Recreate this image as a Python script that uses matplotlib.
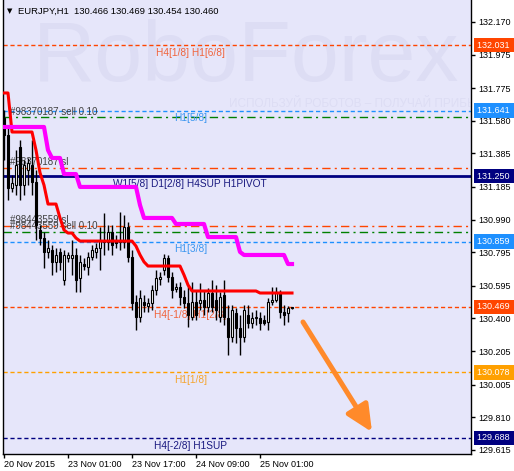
import matplotlib.pyplot as plt

plt.rcParams['font.family'] = ['Liberation Sans', 'DejaVu Sans']

# EURJPY H1 candles, one per hour
opens = [131.597, 131.495, 131.179, 131.196, 131.423, 131.196, 131.286, 131.316, 131.214, 130.927,
         130.880, 130.797, 130.808, 130.737, 130.797, 130.629, 130.761, 130.761, 130.779, 130.641,
         130.725, 130.707, 130.767, 130.797, 130.820, 130.868, 130.856, 130.916, 130.862, 130.868,
         130.856, 130.946, 130.767, 130.498, 130.409, 130.498, 130.474, 130.492, 130.570, 130.635,
         130.689, 130.761, 130.647, 130.576, 130.588, 130.528, 130.492, 130.409, 130.498, 130.492,
         130.510, 130.468, 130.552, 130.510, 130.409, 130.540, 130.403, 130.289, 130.432, 130.343,
         130.289, 130.420, 130.373, 130.403, 130.403, 130.391, 130.379, 130.498, 130.510, 130.558,
         130.438, 130.432, 130.466]
closes = [131.495, 131.179, 131.208, 131.316, 131.196, 131.316, 131.328, 131.214, 130.958, 130.880,
          130.797, 130.820, 130.737, 130.779, 130.737, 130.779, 130.779, 130.779, 130.629, 130.737,
          130.713, 130.767, 130.808, 130.820, 130.868, 130.856, 130.916, 130.838, 130.850, 130.856,
          130.946, 130.767, 130.492, 130.409, 130.522, 130.480, 130.492, 130.570, 130.641, 130.647,
          130.761, 130.647, 130.570, 130.588, 130.528, 130.492, 130.420, 130.498, 130.420, 130.510,
          130.468, 130.552, 130.468, 130.450, 130.528, 130.409, 130.289, 130.450, 130.343, 130.289,
          130.450, 130.373, 130.403, 130.409, 130.373, 130.373, 130.498, 130.510, 130.558, 130.438,
          130.420, 130.462, 130.460]
highs = [131.644, 131.537, 131.256, 131.405, 131.465, 131.346, 131.358, 131.465, 131.286, 130.958,
         130.916, 130.868, 130.838, 130.820, 130.820, 130.808, 130.797, 130.868, 130.820, 130.779,
         130.761, 130.797, 130.838, 130.850, 130.946, 131.029, 130.958, 130.958, 130.898, 131.035,
         131.017, 130.976, 130.808, 130.540, 130.570, 130.540, 130.522, 130.600, 130.689, 130.677,
         130.785, 130.779, 130.677, 130.611, 130.617, 130.570, 130.600, 130.617, 130.570, 130.611,
         130.570, 130.582, 130.629, 130.600, 130.558, 130.629, 130.480, 130.480, 130.462, 130.420,
         130.480, 130.480, 130.438, 130.450, 130.438, 130.420, 130.522, 130.588, 130.588, 130.570,
         130.480, 130.474, 130.469]
lows = [131.346, 131.107, 131.155, 131.137, 131.107, 131.137, 131.196, 131.137, 130.868, 130.838,
        130.701, 130.761, 130.659, 130.677, 130.689, 130.600, 130.737, 130.659, 130.558, 130.558,
        130.689, 130.659, 130.749, 130.761, 130.689, 130.779, 130.808, 130.779, 130.820, 130.808,
        130.820, 130.737, 130.450, 130.331, 130.379, 130.438, 130.438, 130.450, 130.540, 130.600,
        130.659, 130.617, 130.522, 130.558, 130.480, 130.462, 130.349, 130.391, 130.391, 130.450,
        130.420, 130.438, 130.438, 130.391, 130.379, 130.361, 130.182, 130.259, 130.253, 130.182,
        130.259, 130.343, 130.343, 130.361, 130.331, 130.361, 130.331, 130.480, 130.498, 130.403,
        130.361, 130.379, 130.454]

# indicator lines (step shaped), one value per bar
red_line = ([131.746] * 2 + [131.513] * 6 + [131.405, 131.270, 131.196] + [131.083] * 3
            + [131.000, 130.928] + [130.910] * 2 + [130.880] + [130.862] * 14
            + [130.832, 130.780, 130.738] + [130.713] * 9 + [130.660, 130.600]
            + [130.564] * 17 + [130.552] * 9)
magenta_line = ([131.543] * 11 + [131.405] + [131.358] * 3 + [131.262] * 4 + [131.185] * 15
                + [131.077] + [131.000] * 8 + [130.964] * 8 + [130.886] * 8 + [130.797]
                + [130.779] * 11 + [130.725] * 2)

# Murrey levels
level_values = [132.031, 131.641, 131.250, 130.859, 130.469, 130.078, 129.688]
level_names = ['H4[1/8] H1[6/8]', 'H1[5/8]', 'W1[5/8] D1[2/8] H4SUP H1PIVOT', 'H1[3/8]',
               'H4[-1/8] H1[2/8]', 'H1[1/8]', 'H4[-2/8] H1SUP']
level_colors = ['#FF4500', '#1E90FF', '#000080', '#1E90FF', '#FF4500', '#FFA000', '#000080']
level_text_colors = ['#F0643C', '#3A96F0', '#1A1A80', '#3A96F0', '#F0643C', '#F5A530', '#1A1A80']

# open orders: entry (green) and stop loss (orange)
order_values = [131.600, 131.300, 130.952, 130.916]
order_texts = ['#98370187 sell 0.10', '#98370187 sl', '#98443559 sl', '#98443559 sell 0.10']
order_colors = ['#008000', '#FF4500', '#FF4500', '#008000']

y_ticks = [132.170, 131.975, 131.775, 131.580, 131.385, 131.185, 130.990, 130.795,
           130.595, 130.400, 130.205, 130.005, 129.810, 129.615]
x_tick_bars = [0, 16, 32, 48, 64]
x_tick_labels = ['20 Nov 2015', '23 Nov 01:00', '23 Nov 17:00', '24 Nov 09:00', '25 Nov 01:00']

# forecast arrow (bar, price)
arrow_start = (74.75, 130.379)
arrow_end = (92.0, 129.722)

fig = plt.figure(figsize=(5.14, 4.71), dpi=100)
ax = fig.add_axes([3 / 514, 17 / 471, 468 / 514, 454 / 471])
ax.set_facecolor('#E6E6FA')
ax.set_xlim(-0.25, 116.75)
ax.set_ylim(129.591, 132.301)

# watermark
ax.text(0.52, 0.87, 'RoboForex', transform=ax.transAxes, fontsize=62,
        color='#DDDDF4', ha='center', va='center', zorder=0.5, clip_on=True)
ax.text(0.765, 0.771, 'ИСПОЛЬЗУЙ РОБОТОВ – ПОЛУЧАЙ ПРИБЫЛЬ', transform=ax.transAxes,
        fontsize=8.5, color='#DDDDF4', ha='center', va='center', zorder=0.5, clip_on=True)

ytrans = ax.get_yaxis_transform()

for value, color in zip(level_values, level_colors):
    if value == 131.250:
        ax.axhline(value, color=color, lw=2, zorder=1)
    else:
        ax.axhline(value, color=color, lw=1, linestyle=(0, (3, 2)), zorder=1)

for value, name, tcolor in zip(level_values, level_names, level_text_colors):
    ax.annotate(name, xy=(0.4, value), xycoords=ytrans, xytext=(0, -2),
                textcoords='offset points', ha='center', va='top', fontsize=7.3,
                color=tcolor, zorder=2)

for value, color in zip(order_values, order_colors):
    ax.axhline(value, color=color, lw=1, linestyle=(0, (6, 3, 1.5, 3)), zorder=1)

for value, text in zip(order_values, order_texts):
    ax.annotate(text, xy=(1.5, value), xytext=(0, 0.5), textcoords='offset points',
                ha='left', va='bottom', fontsize=7, color='#404040', zorder=2)

# candles
bars = range(len(opens))
for i, o, c, h, l in zip(bars, opens, closes, highs, lows):
    ax.vlines(i, l, h, color='black', lw=1, zorder=3)
    body = max(abs(c - o), 0.004)
    face = 'black' if c < o else 'white'
    ax.bar(i, body, bottom=min(o, c), width=0.6, color=face, edgecolor='black',
           lw=0.8, zorder=4)

ax.plot(list(bars), red_line, color='#FF0000', lw=2.2, zorder=5)
ax.plot(list(bars), magenta_line, color='#FF00FF', lw=3, zorder=5)

ax.annotate('', xy=arrow_end, xytext=arrow_start,
            arrowprops=dict(arrowstyle='-|>,head_length=1.6,head_width=0.75',
                            lw=3.6, color='#FF8A2A', shrinkA=0, shrinkB=0), zorder=6)

# axes
for side in ['left', 'right', 'bottom']:
    ax.spines[side].set_color('black')
    ax.spines[side].set_linewidth(1)
ax.spines['top'].set_visible(False)

ax.yaxis.tick_right()
ax.set_yticks(y_ticks)
ax.set_yticklabels([f'{t:.3f}' for t in y_ticks])
ax.tick_params(axis='y', length=3, width=1, pad=2, labelsize=6.5, colors='black')
ax.set_xticks(x_tick_bars)
ax.set_xticklabels(x_tick_labels)
ax.tick_params(axis='x', length=3, width=1, pad=1, labelsize=6.5, colors='black')
for label in ax.get_xticklabels():
    label.set_horizontalalignment('left')

# price boxes on the right scale
for value, color in zip(level_values, level_colors):
    ax.annotate(f'{value:.3f} ', xy=(1, value), xycoords=ytrans, xytext=(4.3, 0),
                textcoords='offset points', ha='left', va='center', fontsize=6.5,
                color='white', annotation_clip=False, zorder=10,
                bbox=dict(boxstyle='square,pad=0.3', fc=color, ec='none'))

# header
fig.text(7 / 514, 1 - 11 / 471, '▼', fontsize=5, family='DejaVu Sans',
         ha='left', va='center', color='black')
fig.text(18 / 514, 1 - 11 / 471, 'EURJPY,H1  130.466 130.469 130.454 130.460',
         fontsize=6.8, ha='left', va='center', color='black')

fig.savefig('out.png', dpi=100, facecolor='white')
